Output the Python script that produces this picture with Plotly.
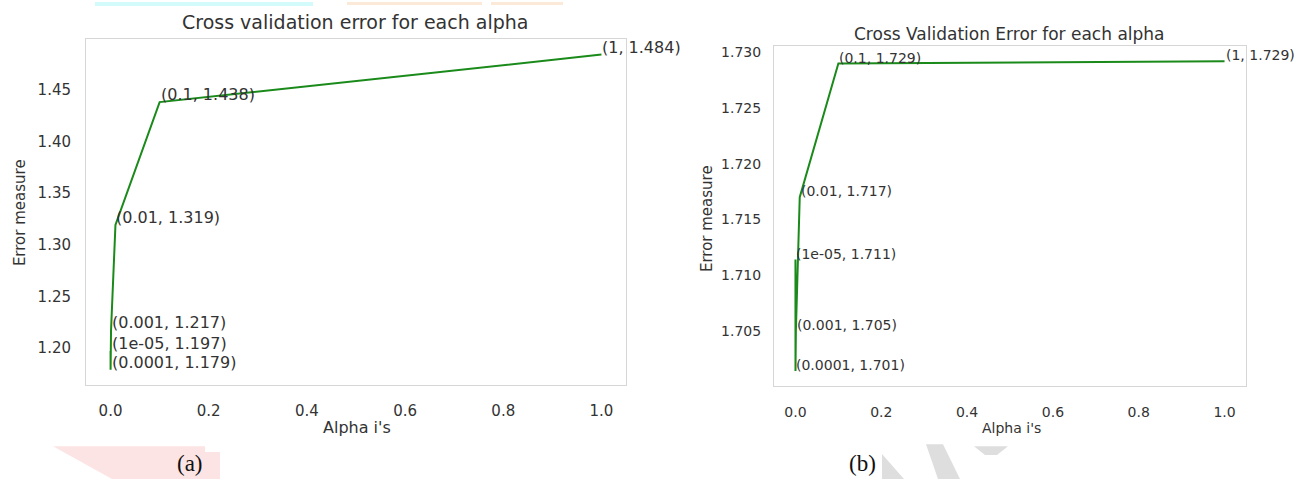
import plotly.graph_objects as go

# ---- data ----
alphas = [1e-05, 0.0001, 0.001, 0.01, 0.1, 1]
err_a = [1.197, 1.179, 1.217, 1.319, 1.438, 1.484]
err_b = [1.7114, 1.7014, 1.7050, 1.7170, 1.7290, 1.7292]
title_a = "Cross validation error for each alpha"
title_b = "Cross Validation Error for each alpha"
xlabel = "Alpha i's"
ylabel = "Error measure"
x_ticks = [0.0, 0.2, 0.4, 0.6, 0.8, 1.0]
y_ticks_a = [1.20, 1.25, 1.30, 1.35, 1.40, 1.45]
y_ticks_b = [1.705, 1.710, 1.715, 1.720, 1.725, 1.730]
panel_labels = ["(a)", "(b)"]

W, H = 1306, 479
FONT = "DejaVu Sans"
TXT = "#333333"
GREEN = "#1a8a1a"


def px(x):
    return x / W


def py(y):
    return 1 - y / H


def padded(vals, m=0.05):
    lo, hi = min(vals), max(vals)
    s = hi - lo
    return [lo - m * s, hi + m * s]


fig = go.Figure()

fig.add_trace(go.Scatter(x=alphas, y=err_a, mode="lines", line=dict(color=GREEN, width=2),
                         xaxis="x", yaxis="y", showlegend=False, hoverinfo="skip"))
fig.add_trace(go.Scatter(x=alphas, y=err_b, mode="lines", line=dict(color=GREEN, width=2),
                         xaxis="x2", yaxis="y2", showlegend=False, hoverinfo="skip"))

frame = dict(showline=True, mirror=True, linecolor="#d6d6d6", linewidth=1,
             showgrid=False, zeroline=False, ticks="outside",
             tickcolor="rgba(0,0,0,0)")

layout = dict(
    width=W, height=H, margin=dict(l=0, r=0, t=0, b=0),
    paper_bgcolor="white", plot_bgcolor="white",
    xaxis=dict(domain=[px(86), px(626)], range=padded(alphas), anchor="y",
               tickvals=x_ticks, tickformat=".1f", ticklen=12,
               tickfont=dict(family=FONT, size=15, color=TXT), **frame),
    yaxis=dict(domain=[py(385), py(37)], range=padded(err_a), anchor="x",
               tickvals=y_ticks_a, tickformat=".2f", ticklen=11,
               tickfont=dict(family=FONT, size=15, color=TXT), **frame),
    xaxis2=dict(domain=[px(774), px(1246)], range=padded(alphas), anchor="y2",
                tickvals=x_ticks, tickformat=".1f", ticklen=13,
                tickfont=dict(family=FONT, size=14, color=TXT), **frame),
    yaxis2=dict(domain=[py(386), py(44)], range=padded(err_b), anchor="x2",
                tickvals=y_ticks_b, tickformat=".3f", ticklen=9,
                tickfont=dict(family=FONT, size=14, color=TXT), **frame),
)
fig.update_layout(**layout)

anns = []
# point labels
for xs, ys, xr, yr, fs in [(alphas, err_a, "x", "y", 16), (alphas, err_b, "x2", "y2", 14)]:
    for a, v in zip(xs, ys):
        anns.append(dict(x=a, y=v, xref=xr, yref=yr, text=f"({a}, {v:.3f})",
                         showarrow=False, xanchor="left", yanchor="bottom",
                         yshift=-int(fs * 0.24), borderpad=0,
                         font=dict(family=FONT, size=fs, color=TXT)))


def txt(x, y, s, size, family=FONT, color=TXT, angle=0):
    anns.append(dict(x=px(x), y=py(y), xref="paper", yref="paper", text=s,
                     showarrow=False, xanchor="center", yanchor="middle",
                     textangle=angle, font=dict(family=family, size=size, color=color)))


txt(355, 20, title_a, 19)
txt(1009, 32, title_b, 17)
txt(357, 427, xlabel, 16)
txt(1011, 428, xlabel, 14)
txt(20, 212, ylabel, 15, angle=-90)
txt(707, 218, ylabel, 15, angle=-90)
txt(190, 463, panel_labels[0], 23, family="Liberation Serif", color="#111111")
txt(862, 463, panel_labels[1], 23, family="Liberation Serif", color="#111111")
fig.update_layout(annotations=anns)


# faint page artefacts around the figure
def rect(x0, y0, x1, y1, color):
    return dict(type="rect", xref="paper", yref="paper", x0=px(x0), x1=px(x1),
                y0=py(y1), y1=py(y0), fillcolor=color, line=dict(width=0), layer="below")


def poly(pts, color):
    d = "M " + " L ".join(f"{px(x):.5f},{py(y):.5f}" for x, y in pts) + " Z"
    return dict(type="path", xref="paper", yref="paper", path=d, fillcolor=color,
                line=dict(width=0), layer="below")


shapes = [
    rect(95, 0, 313, 4, "#d4fbfb"),
    rect(347, 0, 482, 3, "#fde9d8"),
    rect(491, 0, 563, 3, "#fde9d8"),
    poly([(53, 446), (205, 446), (205, 452), (220, 452), (220, 479), (112, 479)], "#fde4e4"),
    poly([(882, 454), (904, 479), (882, 479)], "#dedede"),
    poly([(926, 444), (943, 444), (960, 479), (938, 479)], "#dedede"),
    poly([(974, 446), (1008, 446), (997, 455), (985, 455)], "#dedede"),
]
fig.update_layout(shapes=shapes)

fig.write_html("out.html", config={"displayModeBar": False},
               post_script="document.body.style.margin='0';document.body.style.overflow='hidden';")
